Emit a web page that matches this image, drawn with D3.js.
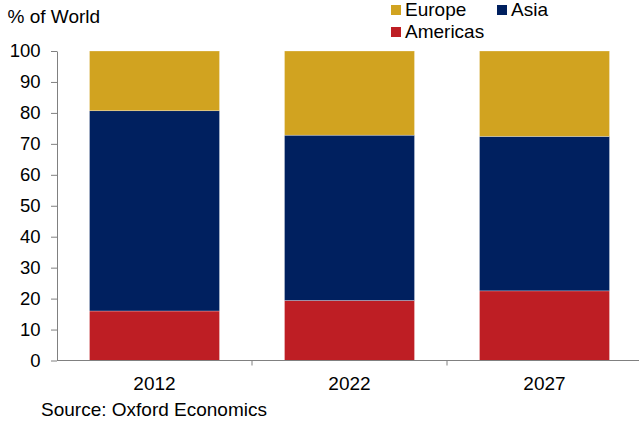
<!DOCTYPE html>
<html>
<head>
<meta charset="utf-8">
<script src="https://cdn.jsdelivr.net/npm/d3@7"></script>
<style>
  body { margin: 0; background: #fff; }
  svg { display: block; font-family: "Liberation Sans", Arial, sans-serif; }
</style>
</head>
<body>
<svg id="chart" width="639" height="423"></svg>
<script>
// Regional share of the world total, by year (percent)
const years = ["2012", "2022", "2027"];
const americas = [16.0, 19.4, 22.5];
const asia = [64.7, 53.4, 49.9];
const europe = [19.3, 27.2, 27.6];
const seriesNames = ["Americas", "Asia", "Europe"];
const yTicks = [0, 10, 20, 30, 40, 50, 60, 70, 80, 90, 100];

const colors = { Americas: "#BE1E24", Asia: "#00205F", Europe: "#D1A320" };

const rows = years.map((y, i) => ({ year: y, Americas: americas[i], Asia: asia[i], Europe: europe[i] }));

const svg = d3.select("#chart");
const plotLeft = 57, plotRight = 642, plotTop = 51, plotBottom = 360.5;

const x = d3.scaleBand().domain(years).range([plotLeft, plotRight]).paddingInner(1/3).paddingOuter(1/6);
const y = d3.scaleLinear().domain([0, 100]).range([plotBottom, plotTop]);

const stack = d3.stack().keys(seriesNames)(rows);

svg.append("g").selectAll("g").data(stack).join("g")
  .attr("fill", d => colors[d.key])
  .selectAll("rect").data(d => d).join("rect")
  .attr("x", d => x(d.data.year))
  .attr("width", x.bandwidth())
  .attr("y", d => y(d[1]))
  .attr("height", d => y(d[0]) - y(d[1]))
  .attr("stroke", "rgba(255,255,255,0.45)")
  .attr("stroke-width", 0.6);

// Y axis
const yAxis = svg.append("g").attr("transform", `translate(${plotLeft},0)`)
  .call(d3.axisLeft(y).tickValues(yTicks).tickSize(6).tickSizeOuter(0).tickPadding(10.5));
yAxis.select(".domain").attr("stroke", "#808080");
yAxis.selectAll(".tick line").attr("stroke", "#808080");
yAxis.selectAll(".tick text").attr("font-size", 18.5).attr("fill", "#000")
  .attr("font-family", "Liberation Sans, Arial, sans-serif");

// X axis: baseline with separator ticks between categories
const xg = svg.append("g");
xg.append("line").attr("x1", plotLeft).attr("x2", 639).attr("y1", plotBottom).attr("y2", plotBottom)
  .attr("stroke", "#808080");
const step = x.step();
[1, 2].forEach(k => {
  const sx = plotLeft + k * step;
  xg.append("line").attr("x1", sx).attr("x2", sx).attr("y1", plotBottom).attr("y2", plotBottom + 5)
    .attr("stroke", "#808080");
});
xg.selectAll("text.cat").data(years).join("text")
  .attr("class", "cat")
  .attr("x", d => x(d) + x.bandwidth() / 2)
  .attr("y", 389.5)
  .attr("text-anchor", "middle")
  .attr("font-size", 19)
  .text(d => d);

// Axis title
svg.append("text").attr("x", 7.5).attr("y", 22.5).attr("font-size", 19).text("% of World");

// Legend
const legendItems = [
  { name: "Europe", x: 391, y: 5 },
  { name: "Asia", x: 497, y: 5 },
  { name: "Americas", x: 391, y: 27 }
];
const lg = svg.append("g").selectAll("g").data(legendItems).join("g");
lg.append("rect").attr("x", d => d.x).attr("y", d => d.y).attr("width", 10).attr("height", 10)
  .attr("fill", d => colors[d.name]);
lg.append("text").attr("x", d => d.x + 14).attr("y", d => d.y + 11).attr("font-size", 19)
  .text(d => d.name);

// Source note
svg.append("text").attr("x", 41).attr("y", 416).attr("font-size", 19).text("Source: Oxford Economics");
</script>
</body>
</html>
